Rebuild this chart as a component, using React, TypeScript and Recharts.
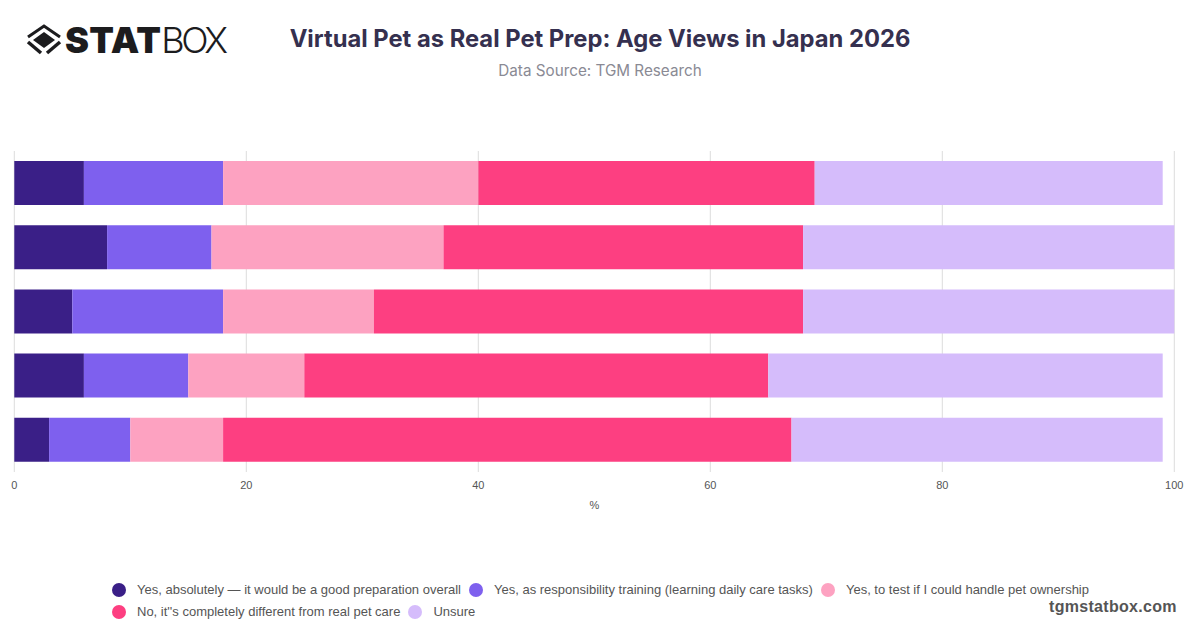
import React from "react";
import { BarChart, Bar, XAxis, YAxis, CartesianGrid, Legend } from "recharts";

const ageGroups = ["Group A", "Group B", "Group C", "Group D", "Group E"];
const absolutely = [6, 8, 5, 6, 3];
const responsibility = [12, 9, 13, 9, 7];
const testOwnership = [22, 20, 13, 10, 8];
const different = [29, 31, 37, 40, 49];
const unsure = [30, 32, 32, 34, 32];
const xTicks = [0, 20, 40, 60, 80, 100];

const seriesNames = [
  "Yes, absolutely — it would be a good preparation overall",
  "Yes, as responsibility training (learning daily care tasks)",
  "Yes, to test if I could handle pet ownership",
  "No, it''s completely different from real pet care",
  "Unsure",
];
const seriesColors = ["#3A1F87", "#7E60EE", "#FDA2C1", "#FD3F81", "#D5BCFB"];
const seriesValues = [absolutely, responsibility, testOwnership, different, unsure];
const keys = ["s0", "s1", "s2", "s3", "s4"];

const rows = ageGroups.map((name, i) => {
  const row: Record<string, string | number> = { name };
  keys.forEach((k, j) => {
    row[k] = seriesValues[j][i];
  });
  return row;
});

const sans = "'Liberation Sans', Arial, sans-serif";

function LegendRows({ payload }: any) {
  const items = payload || [];
  const renderItem = (it: any) => (
    <span key={it.value} style={{ display: "inline-flex", alignItems: "center", marginRight: 8, height: 22 }}>
      <span style={{ width: 14, height: 14, borderRadius: 7, background: it.color, marginRight: 11, flex: "none" }} />
      <span>{it.value}</span>
    </span>
  );
  return (
    <div style={{ fontFamily: sans, fontSize: 13, color: "#555", lineHeight: "22px" }}>
      <div style={{ display: "flex", height: 22, whiteSpace: "nowrap" }}>{items.slice(0, 3).map(renderItem)}</div>
      <div style={{ display: "flex", height: 22, whiteSpace: "nowrap" }}>{items.slice(3).map(renderItem)}</div>
    </div>
  );
}

export default function App() {
  return (
    <div style={{ position: "absolute", left: 0, top: 0, width: 1200, height: 628, background: "#fff", overflow: "hidden" }}>
      <svg width={38} height={32} style={{ position: "absolute", left: 25, top: 24 }} viewBox="0 0 38 32">
        <path d="M3 13 L19 2 L35 13" fill="none" stroke="#1c1c1e" strokeWidth={3} />
        <path d="M3 18 L16 29" fill="none" stroke="#1c1c1e" strokeWidth={3.5} />
        <path d="M35 18 L22 29" fill="none" stroke="#1c1c1e" strokeWidth={3.5} />
        <path d="M19 8 L30 16 L19 24 L8 16 Z" fill="#1c1c1e" />
      </svg>
      <div style={{ position: "absolute", left: 65, top: 19, fontFamily: "Inter, sans-serif", fontSize: 36, lineHeight: "42px", color: "#1c1c1e", whiteSpace: "nowrap" }}>
        <span style={{ fontWeight: 900, letterSpacing: 0.2 }}>STAT</span>
        <span style={{ fontWeight: 300, letterSpacing: -3.4 }}>BOX</span>
      </div>
      <div style={{ position: "absolute", left: 0, width: 1200, top: 23, textAlign: "center", fontFamily: "Inter, sans-serif", fontWeight: 700, fontSize: 23.75, lineHeight: "32px", color: "#35304F" }}>
        Virtual Pet as Real Pet Prep: Age Views in Japan 2026
      </div>
      <div style={{ position: "absolute", left: 0, width: 1200, top: 61, textAlign: "center", fontFamily: "Inter, sans-serif", fontSize: 15.25, lineHeight: "20px", color: "#8A8A94" }}>
        Data Source: TGM Research
      </div>
      <div style={{ position: "absolute", left: 1049, top: 597, fontFamily: sans, fontWeight: 700, fontSize: 16, letterSpacing: 0.3, lineHeight: "20px", color: "#555", whiteSpace: "nowrap" }}>
        tgmstatbox.com
      </div>
      <BarChart
        width={1200}
        height={628}
        data={rows}
        layout="vertical"
        barCategoryGap={10}
        margin={{ top: 151, right: 25.7, bottom: 84, left: 14.3 }}
      >
        <CartesianGrid horizontal={false} vertical stroke="#DCDCDC" strokeWidth={1} />
        <XAxis
          type="number"
          domain={[0, 100]}
          ticks={xTicks}
          axisLine={false}
          tickLine={false}
          tick={{ fontFamily: sans, fontSize: 11, fill: "#555" }}
          tickMargin={3}
          height={28}
          interval={0}
          label={{ value: "%", position: "insideBottom", offset: -9, style: { fontFamily: sans, fontSize: 11, fill: "#555" } }}
        />
        <YAxis type="category" dataKey="name" width={0} tick={false} tickLine={false} axisLine={{ stroke: "#44444F", strokeWidth: 1 }} />
        <Legend
          content={<LegendRows />}
          verticalAlign="bottom"
          itemSorter="dataKey"
          wrapperStyle={{ position: "absolute", left: 112, top: 579, width: 1000, height: 44, bottom: "auto" }}
        />
        {keys.map((k, j) => (
          <Bar key={k} dataKey={k} name={seriesNames[j]} stackId="a" fill={seriesColors[j]} isAnimationActive={false} />
        ))}
      </BarChart>
    </div>
  );
}
